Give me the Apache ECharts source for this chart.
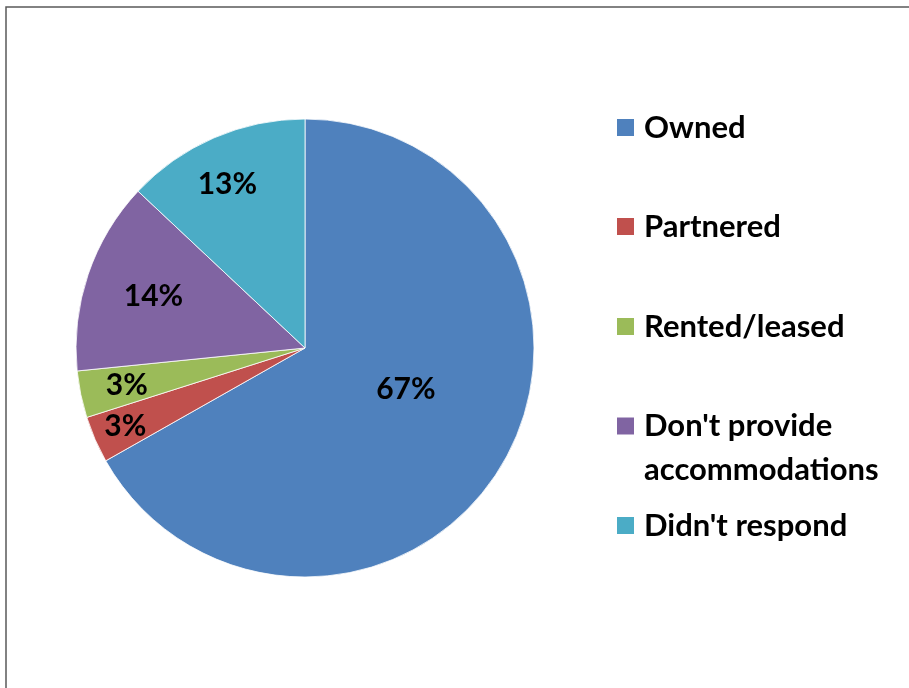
<!DOCTYPE html>
<html>
<head>
<meta charset="utf-8">
<script src="https://cdn.jsdelivr.net/npm/echarts@6/dist/echarts.min.js"></script>
<style>
  html, body { margin: 0; padding: 0; background: #fff; }
  #chart { width: 909px; height: 688px; }
</style>
</head>
<body>
<div id="chart"></div>
<script>
const categories = ['Owned', 'Partnered', 'Rented/leased', "Don't provide accommodations", "Didn't respond"]
const legendText = ['Owned', 'Partnered', 'Rented/leased', "\nDon't provide\naccommodations", "Didn't respond"]
const shares = [66.8, 3.3, 3.3, 13.6, 13.0]
const colors = ['#4F81BD', '#C0504D', '#9BBB59', '#8064A2', '#4BACC6']

// layout only
const labelRadius = [106, 193, 179, 157, 178]
const labelTurn = [8, 0, 0, 0, 2]
const legendCenters = [127, 226, 326, 426, 525]

const font = 'Lato, "Open Sans", sans-serif'
const pieData = categories.map((c, i) => ({ name: c, value: shares[i], itemStyle: { color: colors[i] } }))

// transparent copies of the pie, one per label, so each label sits at its own radius
const labelSeries = labelRadius.map((r, i) => ({
  type: 'pie',
  silent: true,
  legendHoverLink: false,
  center: [305, 348],
  radius: [0, r * 2],
  startAngle: 90 + labelTurn[i],
  clockwise: true,
  animation: false,
  labelLine: { show: false },
  data: categories.map((c, j) => ({
    name: c,
    value: shares[j],
    itemStyle: { color: 'rgba(0,0,0,0)', borderWidth: 0 },
    label: {
      show: j === i,
      position: 'inside',
      formatter: p => Math.round(p.value) + '%',
      fontFamily: font,
      fontWeight: 'bold',
      fontSize: 30,
      color: '#000'
    }
  }))
}))

const legends = categories.map((c, i) => {
  const lines = legendText[i].split('\n').length
  const lh = lines > 1 ? 44 : 30
  return {
    left: 615,
    top: legendCenters[i] - lines * lh / 2,
    padding: 0,
    orient: 'vertical',
    icon: 'rect',
    itemWidth: 19,
    itemHeight: 19,
    selectedMode: false,
    data: [c],
    formatter: () => legendText[i],
    textStyle: {
      fontFamily: font,
      fontWeight: 'bold',
      fontSize: 31,
      color: '#000',
      lineHeight: lh,
      padding: [0, 0, 0, 4]
    }
  }
})

const chart = echarts.init(document.getElementById('chart'))
chart.setOption({
  animation: false,
  legend: legends,
  graphic: [{
    type: 'rect',
    shape: { x: 6, y: 7, width: 1200, height: 1200 },
    style: { fill: 'none', stroke: '#595959', lineWidth: 1.5 }
  }],
  series: [{
    type: 'pie',
    center: [305, 348],
    radius: [0, 229],
    startAngle: 90,
    clockwise: true,
    avoidLabelOverlap: false,
    itemStyle: { borderColor: '#ffffff', borderWidth: 0.8 },
    label: { show: false },
    labelLine: { show: false },
    emphasis: { disabled: true },
    data: pieData
  }].concat(labelSeries)
})
</script>
</body>
</html>
